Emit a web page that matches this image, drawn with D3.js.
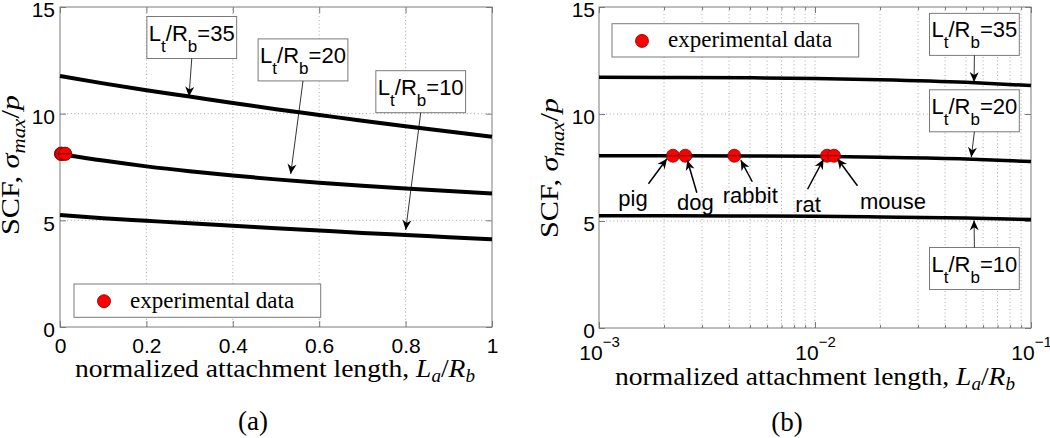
<!DOCTYPE html>
<html><head><meta charset="utf-8">
<script src="https://cdn.jsdelivr.net/npm/d3@7"></script>
<style>body{margin:0;background:#fff}svg{display:block}</style>
</head><body>
<svg id="c" width="1050" height="438"></svg>
<script>
// ---------------- data ----------------
const linX   = [0, 0.1, 0.2, 0.3, 0.4, 0.5, 0.6, 0.7, 0.8, 0.9, 1.0];
const lin35  = [11.77, 11.42, 11.10, 10.80, 10.50, 10.21, 9.94, 9.67, 9.41, 9.16, 8.92];
const lin20  = [8.11, 7.80, 7.53, 7.30, 7.10, 6.92, 6.76, 6.62, 6.49, 6.37, 6.26];
const lin10  = [5.25, 5.10, 4.98, 4.86, 4.75, 4.63, 4.52, 4.41, 4.31, 4.21, 4.11];

const logX   = [0.001, 0.002, 0.005, 0.01, 0.02, 0.05, 0.1];
const log35  = [11.72, 11.71, 11.69, 11.66, 11.60, 11.48, 11.33];
const log20  = [8.05, 8.05, 8.04, 8.02, 7.98, 7.90, 7.78];
const log10  = [5.24, 5.24, 5.23, 5.22, 5.19, 5.14, 5.07];

const expNames = ["pig", "dog", "rabbit", "rat", "mouse"];
const expX     = [0.00220, 0.00251, 0.00423, 0.01137, 0.01224];
const expYLin  = [8.12, 8.12, 8.12, 8.12, 8.12];
const expYLog  = [8.05, 8.05, 8.05, 8.05, 8.05];

const ratioLabels = ["35", "20", "10"];
const yTicks      = [0, 5, 10, 15];
const linTicks    = [0, 0.2, 0.4, 0.6, 0.8, 1];
const linTickText = ["0", "0.2", "0.4", "0.6", "0.8", "1"];
const logTicks    = [0.001, 0.01, 0.1];
const logTickExp  = ["\u22123", "\u22122", "\u22121"];
const legendText  = "experimental data";
const panelNames  = ["(a)", "(b)"];

// ---------------- setup ----------------
const SANS = "'Liberation Sans', Arial, Helvetica, sans-serif";
const SERIF = "'Liberation Serif', 'Times New Roman', serif";
const svg = d3.select("#c");
const defs = svg.append("defs");
defs.append("marker").attr("id", "ah")
  .attr("viewBox", "-11 -5 12 10").attr("refX", 0).attr("refY", 0)
  .attr("markerWidth", 12).attr("markerHeight", 10)
  .attr("markerUnits", "userSpaceOnUse").attr("orient", "auto")
  .append("path").attr("d", "M0,0 L-10,-4.5 L-7,0 L-10,4.5 Z").attr("fill", "#000");

const FRAME = "#7a7a7a";

function frameAndGrid(g, x, y, vgrid) {
  const [x0, x1] = x.range(), [yb, yt] = y.range();
  g.append("g").selectAll("line").data(vgrid).join("line")
    .attr("x1", d => x(d)).attr("x2", d => x(d)).attr("y1", yb).attr("y2", yt)
    .attr("stroke", "#a8a8a8").attr("stroke-width", 1).attr("stroke-dasharray", "1,2.6");
  g.append("g").selectAll("line").data([5, 10]).join("line")
    .attr("x1", x0).attr("x2", x1).attr("y1", d => y(d)).attr("y2", d => y(d))
    .attr("stroke", "#a8a8a8").attr("stroke-width", 1).attr("stroke-dasharray", "1,2.6");
}

function styleAxis(a, fs) {
  a.select(".domain").remove();
  a.selectAll(".tick line").attr("stroke", FRAME);
  a.selectAll("text").attr("font-family", SANS).attr("font-size", fs).attr("fill", "#000");
}

function curves(g, x, y, xs, series, w) {
  const line = d3.line().x((d, i) => x(xs[i])).y(d => y(d)).curve(d3.curveMonotoneX);
  g.append("g").selectAll("path").data(series).join("path")
    .attr("d", d => line(d)).attr("fill", "none").attr("stroke", "#000")
    .attr("stroke-width", w).attr("stroke-linejoin", "round");
}

function expPoints(g, x, y, ys) {
  const pts = g.append("g");
  expX.forEach((v, i) => {
    const cx = x(v), cy = y(ys[i]);
    pts.append("circle").attr("cx", cx).attr("cy", cy).attr("r", 6.5)
      .attr("fill", "#ff0000").attr("stroke", "#7a0000").attr("stroke-width", 0.8);
    pts.append("line").attr("x1", cx - 5.5).attr("x2", cx + 5.5).attr("y1", cy).attr("y2", cy)
      .attr("stroke", "#300").attr("stroke-width", 0.8);
  });
}

function legend(g, bx, by) {
  g.append("rect").attr("x", bx).attr("y", by).attr("width", 246.7).attr("height", 33.3)
    .attr("fill", "#fff").attr("stroke", FRAME).attr("stroke-width", 1);
  g.append("circle").attr("cx", bx + 30).attr("cy", by + 17.2).attr("r", 6.5)
    .attr("fill", "#ff0000").attr("stroke", "#7a0000").attr("stroke-width", 0.8);
  g.append("text").attr("x", bx + 56).attr("y", by + 23.5)
    .attr("font-family", SERIF).attr("font-size", 23).text(legendText);
}

function ratioBox(g, cx, cy, label, tipX, tipY) {
  const bgrp = g.append("g");
  const rect = bgrp.append("rect");
  const t = bgrp.append("text").attr("font-family", SANS).attr("font-size", 22).attr("fill", "#000");
  t.append("tspan").text("L");
  t.append("tspan").attr("font-size", 17).attr("dy", 11).text("t");
  t.append("tspan").attr("dy", -11).text("/R");
  t.append("tspan").attr("font-size", 17).attr("dy", 11).text("b");
  t.append("tspan").attr("dy", -11).text("=" + label);
  const bb = t.node().getBBox();
  const w = bb.width + 4, h = 42;
  const bx = cx - w / 2, by = cy - h / 2;
  t.attr("x", bx + 2 - bb.x).attr("y", by + 24);
  rect.attr("x", bx).attr("y", by).attr("width", w).attr("height", h)
    .attr("fill", "#fff").attr("stroke", FRAME).attr("stroke-width", 1);
  const sy = tipY > cy ? by + h : by;
  bgrp.append("line").attr("x1", cx).attr("y1", sy).attr("x2", tipX).attr("y2", tipY)
    .attr("stroke", "#000").attr("stroke-width", 0.8).attr("marker-end", "url(#ah)");
}

function yTitle(g, px, py, len) {
  const t = g.append("text").attr("transform", `translate(${px},${py}) rotate(-90)`)
    .attr("text-anchor", "middle").attr("font-family", SERIF).attr("font-size", 26)
    .attr("textLength", len).attr("lengthAdjust", "spacingAndGlyphs");
  t.append("tspan").text("SCF, ");
  t.append("tspan").attr("font-style", "italic").text("\u03c3");
  t.append("tspan").attr("font-style", "italic").attr("font-size", 18).attr("dy", 6).text("max");
  t.append("tspan").attr("dy", -6).text("/");
  t.append("tspan").attr("font-style", "italic").text("p");
}

function xTitle(g, px, py, len) {
  const t = g.append("text").attr("x", px).attr("y", py)
    .attr("text-anchor", "middle").attr("font-family", SERIF).attr("font-size", 26)
    .attr("textLength", len).attr("lengthAdjust", "spacingAndGlyphs");
  t.append("tspan").text("normalized attachment length, ");
  t.append("tspan").attr("font-style", "italic").text("L");
  t.append("tspan").attr("font-style", "italic").attr("font-size", 18).attr("dy", 5).text("a");
  t.append("tspan").attr("dy", -5).text("/");
  t.append("tspan").attr("font-style", "italic").text("R");
  t.append("tspan").attr("font-style", "italic").attr("font-size", 18).attr("dy", 5).text("b");
}

// ---------------- panel (a) ----------------
{
  const x = d3.scaleLinear().domain([0, 1]).range([60, 492]);
  const y = d3.scaleLinear().domain([0, 15]).range([327, 7]);
  const g = svg.append("g");
  frameAndGrid(g, x, y, linTicks.slice(1, -1));

  styleAxis(g.append("g").attr("transform", "translate(0,327)")
    .call(d3.axisBottom(x).tickValues(linTicks).tickFormat((d, i) => linTickText[i])
      .tickSizeInner(-6).tickSizeOuter(0).tickPadding(11)), 21);
  styleAxis(g.append("g").attr("transform", "translate(0,7)")
    .call(d3.axisTop(x).tickValues(linTicks).tickFormat("").tickSizeInner(-6).tickSizeOuter(0)), 21);
  const ya = g.append("g").attr("transform", "translate(60,0)")
    .call(d3.axisLeft(y).tickValues(yTicks).tickSizeInner(-6).tickSizeOuter(0).tickPadding(5));
  styleAxis(ya, 21);
  ya.selectAll("text").attr("dy", "0.47em");
  styleAxis(g.append("g").attr("transform", "translate(492,0)")
    .call(d3.axisRight(y).tickValues(yTicks).tickFormat("").tickSizeInner(-6).tickSizeOuter(0)), 21);

  g.append("rect").attr("x", 60).attr("y", 7).attr("width", 432).attr("height", 320)
    .attr("fill", "none").attr("stroke", FRAME).attr("stroke-width", 1);

  curves(g, x, y, linX, [lin35, lin20, lin10], 4);
  expPoints(g, x, y, expYLin);

  ratioBox(g, x(0.305), y(13.57), ratioLabels[0], x(0.2986), y(10.8));
  ratioBox(g, x(0.5625), y(12.52), ratioLabels[1], x(0.534), y(7.17));
  ratioBox(g, x(0.835), y(11.03), ratioLabels[2], x(0.8003), y(4.55));

  legend(g, 74, 284);
  yTitle(g, 19, 165, 140);
  xTitle(g, 275, 377, 400);
  g.append("text").attr("x", 253).attr("y", 430).attr("text-anchor", "middle")
    .attr("font-family", SERIF).attr("font-size", 27).text(panelNames[0]);
}

// ---------------- panel (b) ----------------
{
  const x = d3.scaleLog().domain([0.001, 0.1]).range([599, 1031]);
  const y = d3.scaleLinear().domain([0, 15]).range([328, 7]);
  const g = svg.append("g");
  const minor = [];
  [0.001, 0.01].forEach(dec => { for (let k = 2; k <= 9; k++) minor.push(dec * k); });
  frameAndGrid(g, x, y, minor.concat([0.01]));

  const xb = g.append("g").attr("transform", "translate(0,328)")
    .call(d3.axisBottom(x).tickValues(logTicks).tickFormat(() => "10")
      .tickSizeInner(-6).tickSizeOuter(0).tickPadding(17));
  styleAxis(xb, 21);
  xb.selectAll(".tick text").each(function (d, i) {
    d3.select(this).append("tspan").attr("font-size", 15).attr("dy", -13).text(logTickExp[i]);
  });
  styleAxis(g.append("g").attr("transform", "translate(0,328)")
    .call(d3.axisBottom(x).tickValues(minor).tickFormat("").tickSizeInner(-3).tickSizeOuter(0)), 21);
  styleAxis(g.append("g").attr("transform", "translate(0,7)")
    .call(d3.axisTop(x).tickValues(logTicks).tickFormat("").tickSizeInner(-6).tickSizeOuter(0)), 21);
  styleAxis(g.append("g").attr("transform", "translate(0,7)")
    .call(d3.axisTop(x).tickValues(minor).tickFormat("").tickSizeInner(-3).tickSizeOuter(0)), 21);
  const ya = g.append("g").attr("transform", "translate(599,0)")
    .call(d3.axisLeft(y).tickValues(yTicks).tickSizeInner(-6).tickSizeOuter(0).tickPadding(4));
  styleAxis(ya, 21);
  ya.selectAll("text").attr("dy", "0.47em");
  styleAxis(g.append("g").attr("transform", "translate(1031,0)")
    .call(d3.axisRight(y).tickValues(yTicks).tickFormat("").tickSizeInner(-6).tickSizeOuter(0)), 21);

  g.append("rect").attr("x", 599).attr("y", 7).attr("width", 432).attr("height", 321)
    .attr("fill", "none").attr("stroke", FRAME).attr("stroke-width", 1);

  curves(g, x, y, logX, [log35, log20, log10], 3.5);
  expPoints(g, x, y, expYLog);

  // animal labels (offsets from the point, in px)
  const labOff = [[-40, 50, -24.5, 28, -6, 3], [10, 54, 11.5, 37, 2, 4.5], [16, 47, 18, 26, 6.5, 4.5],
                  [-19, 56, -19.5, 33.5, -3.5, 3.5], [59, 53, 23.5, 30, 3.5, 3]];
  expNames.forEach((nm, i) => {
    const px = x(expX[i]), py = y(expYLog[i]);
    const o = labOff[i];
    g.append("text").attr("x", px + o[0]).attr("y", py + o[1]).attr("text-anchor", "middle")
      .attr("font-family", SANS).attr("font-size", 22).text(nm);
    g.append("line").attr("x1", px + o[2]).attr("y1", py + o[3]).attr("x2", px + o[4]).attr("y2", py + o[5])
      .attr("stroke", "#000").attr("stroke-width", 1.5).attr("marker-end", "url(#ah)");
  });

  ratioBox(g, x(0.0547), y(13.72), ratioLabels[0], x(0.0545), y(11.49));
  ratioBox(g, x(0.0547), y(10.15), ratioLabels[1], x(0.0529), y(7.98));
  ratioBox(g, x(0.0547), y(2.78), ratioLabels[2], x(0.0545), y(5.03));

  legend(g, 612, 23.7);
  yTitle(g, 558, 168, 140);
  xTitle(g, 815, 385, 400);
  g.append("text").attr("x", 787).attr("y", 431).attr("text-anchor", "middle")
    .attr("font-family", SERIF).attr("font-size", 27).text(panelNames[1]);
}
</script>
</body></html>
